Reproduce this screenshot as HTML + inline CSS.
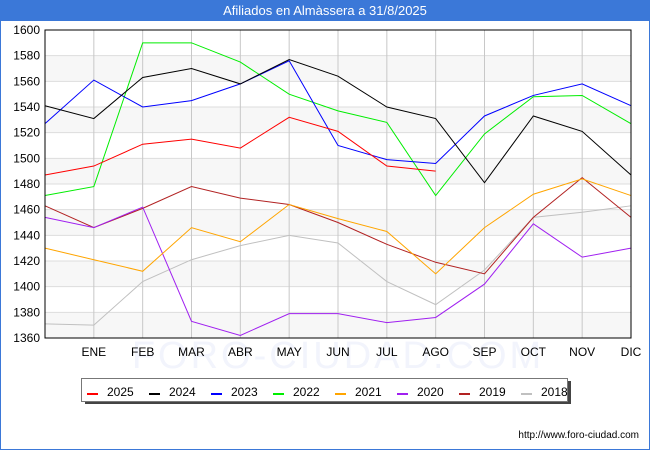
<!DOCTYPE html>
<html><head><meta charset="utf-8"><style>
body{margin:0;width:650px;height:450px;overflow:hidden;background:#fff;font-family:"Liberation Sans","DejaVu Sans",sans-serif}
#title{position:absolute;left:0;top:0;width:650px;height:21px;background:#3b78d8;color:#fff;font-size:13px;line-height:22px;text-align:center}
#frame{position:absolute;left:0;top:0;width:648px;height:448px;border:1px solid #3b78d8}
</style></head><body>
<div id="frame"></div>
<div id="title">Afiliados en Almàssera a 31/8/2025</div>
<svg id="chart" width="650" height="450" style="position:absolute;left:0;top:0"></svg>
<script>
const months=["","ENE","FEB","MAR","ABR","MAY","JUN","JUL","AGO","SEP","OCT","NOV","DIC"];
const yTicks=[1360,1380,1400,1420,1440,1460,1480,1500,1520,1540,1560,1580,1600];
const years=["2025","2024","2023","2022","2021","2020","2019","2018"];
const colors=["#ff0000","#000000","#0000ff","#00ee00","#ffa500","#a020f0","#b22222","#c0c0c0"];
const s2025=[1487,1494,1511,1515,1508,1532,1521,1494,1490];
const s2024=[1541,1531,1563,1570,1558,1577,1564,1540,1531,1481,1533,1521,1487];
const s2023=[1527,1561,1540,1545,1558,1576,1510,1499,1496,1533,1549,1558,1541];
const s2022=[1471,1478,1590,1590,1575,1550,1537,1528,1471,1519,1548,1549,1527];
const s2021=[1430,1421,1412,1446,1435,1464,1453,1443,1410,1446,1472,1484,1471];
const s2020=[1454,1446,1462,1373,1362,1379,1379,1372,1376,1402,1449,1423,1430];
const s2019=[1463,1446,1461,1478,1469,1464,1450,1433,1419,1410,1454,1485,1454];
const s2018=[1371,1370,1404,1421,1432,1440,1434,1404,1386,1413,1454,1458,1463];
const series=[s2025,s2024,s2023,s2022,s2021,s2020,s2019,s2018];
const L=45,R=631,T=30,B=338,NS="http://www.w3.org/2000/svg";
const x=i=>L+i*(R-L)/12;
const y=v=>B-(v-1360)*(B-T)/240;
const svg=document.getElementById('chart');
function mk(t,a,p){const e=document.createElementNS(NS,t);for(const k in a)e.setAttribute(k,a[k]);(p||svg).appendChild(e);return e;}
for(let i=0;i<yTicks.length-1;i++){if(i%2===0){const b=mk('rect',{x:L,y:y(yTicks[i+1]),width:R-L,height:y(yTicks[i])-y(yTicks[i+1]),fill:'#f7f7f7'});

}}
const wm=mk('text',{x:338,y:368,'text-anchor':'middle','font-size':38,fill:'#f2f4fc','letter-spacing':'3'});wm.textContent='FORO-CIUDAD.COM';


yTicks.forEach(v=>{const g=mk('line',{x1:L,x2:R,y1:y(v),y2:y(v),stroke:'#dddddd'});


const t=mk('text',{x:L-5,y:y(v)+4,'text-anchor':'end','font-size':12,fill:'#000'});t.textContent=v;

});
months.forEach((m,i)=>{if(i>0){const g=mk('line',{x1:x(i),x2:x(i),y1:T,y2:B,stroke:'#c8c8c8'});

}
const t=mk('text',{x:x(i),y:356,'text-anchor':'middle','font-size':12,fill:'#000'});t.textContent=m;

});
for(let k=series.length-1;k>=0;k--){const pts=series[k].map((v,i)=>x(i)+','+y(v)).join(' ');
const p=mk('polyline',{points:pts,fill:'none',stroke:colors[k],'stroke-width':1});

}
const ax=mk('rect',{x:L,y:T,width:R-L,height:B-T,fill:'none',stroke:'#000'});


const sh=mk('rect',{x:85,y:381,width:486,height:23,fill:'#444'});


const lg=mk('rect',{x:81.5,y:378.5,width:486,height:23,fill:'#fff',stroke:'#777'});


years.forEach((yr,k)=>{const g=mk('g',{});


mk('line',{x1:87+k*62,x2:98+k*62,y1:394,y2:394,stroke:colors[k],'stroke-width':2},g);
const t=mk('text',{x:107+k*62,y:396,'font-size':12,fill:'#000'},g);t.textContent=yr;});
const u=mk('text',{x:639,y:438,'text-anchor':'end','font-size':10,fill:'#000'});u.textContent='http://www.foro-ciudad.com';


</script>
</body></html>
